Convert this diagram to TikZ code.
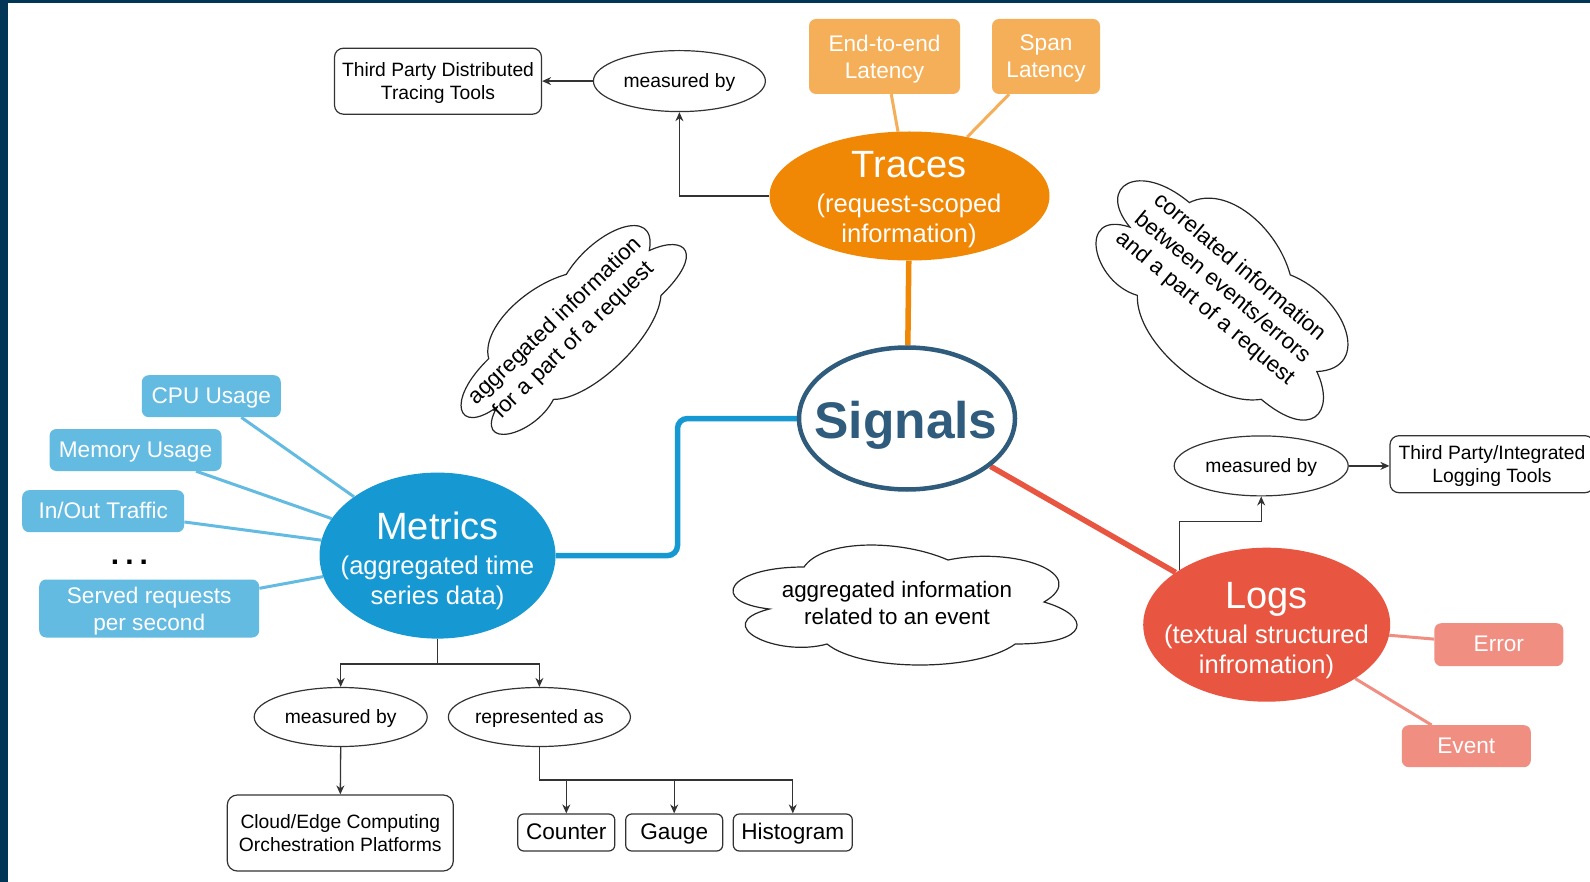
\documentclass[tikz,border=0pt]{standalone}
\usepackage{fontspec}
\setmainfont{Liberation Sans}
\usetikzlibrary{shapes.geometric,arrows.meta}

\pgfdeclarelayer{bglayer}
\pgfsetlayers{bglayer,main}

\definecolor{navy}{HTML}{023656}
\definecolor{trcdark}{HTML}{F08705}
\definecolor{trclight}{HTML}{F5AF58}
\definecolor{metdark}{HTML}{1699D3}
\definecolor{metlight}{HTML}{64BBE2}
\definecolor{logdark}{HTML}{E85642}
\definecolor{loglight}{HTML}{F08E81}
\definecolor{sigblue}{HTML}{2F5B7C}
\definecolor{ink}{HTML}{333333}

\newcommand\fsNote{\fontsize{19.3pt}{23.2pt}\selectfont}
\newcommand\fsLeaf{\fontsize{22.6pt}{27.1pt}\selectfont}
\newcommand\fsCloud{\fontsize{22.4pt}{26.9pt}\selectfont}
\newcommand\fsTitle{\fontsize{38pt}{45.6pt}\selectfont}
\newcommand\fsSub{\fontsize{25.6pt}{30pt}\selectfont}

% cloud outline centred at (#1,#2), size #3 x #4, turned by #5 degrees
\newcommand\puffcloud[5]{%
  \begin{scope}[shift={(#1,#2)}, rotate=#5, x={(#3pt,0pt)}, y={(0pt,-#4pt)}]
    \draw[cloudline] (-0.25,-0.25)
      .. controls (-0.45,-0.25) and (-0.5,0) .. (-0.34,0.05)
      .. controls (-0.5,0.16) and (-0.32,0.4) .. (-0.19,0.3)
      .. controls (-0.1,0.5) and (0.2,0.5) .. (0.3,0.3)
      .. controls (0.5,0.3) and (0.5,0.1) .. (0.375,0)
      .. controls (0.5,-0.2) and (0.3,-0.4) .. (0.125,-0.3)
      .. controls (0,-0.45) and (-0.2,-0.45) .. (-0.25,-0.25) -- cycle;
  \end{scope}}

\begin{document}
\begin{tikzpicture}[x=1pt, y=-1pt,
  hub/.style={ellipse, inner sep=0pt},
  hubtext/.style={align=center, text=white, font=\fsSub},
  leaf/.style={rectangle, rounded corners=7pt, inner sep=0pt, text=white, align=center, font=\fsLeaf},
  oneline/.style={text height=16.2pt, text depth=2pt},
  noteline/.style={text height=13.8pt, text depth=1.6pt},
  toolbox/.style={rectangle, draw=ink, line width=1.2pt, rounded corners=9pt, inner sep=0pt, align=center, font=\fsNote},
  verb/.style={ellipse, draw=ink, line width=1.2pt, fill=white, inner sep=0pt, font=\fsNote, noteline},
  tipline/.style={draw=ink, line width=1.3pt, -{Stealth[length=9pt,width=8pt]}},
  plainline/.style={draw=ink, line width=1.3pt},
  cloudline/.style={draw=black!85, line width=1.2pt, fill=white},
  cloudtext/.style={align=center, font=\fsCloud},
  trunk/.style={line width=5.5pt},
  twig/.style={line width=3pt}
]
\useasboundingbox (0,0) rectangle (1590,882);
\begin{pgfonlayer}{bglayer}
  \fill[white] (0,0) rectangle (1590,882);
\end{pgfonlayer}

% ---- main hubs
\node[hub, fill=trcdark, minimum width=280pt, minimum height=129pt] (traces) at (909.5,196) {};
\node[hub, draw=sigblue, line width=4.5pt, fill=white, minimum width=216pt, minimum height=142pt] (signals) at (907,418.5) {};
\node[hub, fill=metdark, minimum width=236pt, minimum height=166pt] (metrics) at (437.5,555.6) {};
\node[hub, fill=logdark, minimum width=247pt, minimum height=154pt] (logs) at (1266.7,624.7) {};

\node[hubtext] (tracestext) at (909,199.8) {{\fsTitle Traces}\\[5pt](request-scoped\\information)};
\node[hubtext] (metricstext) at (437.5,560.6) {{\fsTitle Metrics}\\[5pt](aggregated time\\series data)};
\node[hubtext] (logstext) at (1266.5,630.6) {{\fsTitle Logs}\\[5pt](textual structured\\infromation)};
\node[anchor=base, font=\fontsize{51.5pt}{60pt}\selectfont\bfseries, text=sigblue] (signalstext) at (906,438.3) {Signals};

% ---- coloured leaves
\node[leaf, fill=trclight, text depth=-1.3pt, minimum width=151pt, minimum height=75pt] (e2e) at (884.5,56.5) {End-to-end\\Latency};
\node[leaf, fill=trclight, text depth=-1.3pt, minimum width=108pt, minimum height=75pt] (span) at (1046,56.5) {Span\\Latency};

\node[leaf, oneline, fill=metlight, minimum width=139pt, minimum height=42pt] (cpu) at (211.3,396.2) {CPU Usage};
\node[leaf, oneline, fill=metlight, minimum width=172pt, minimum height=42pt] (mem) at (135.5,450) {Memory Usage};
\node[leaf, oneline, fill=metlight, minimum width=162pt, minimum height=42pt] (io) at (103.2,511.2) {In/Out Traffic};
\node[anchor=base, font=\fontsize{30pt}{36pt}\selectfont\bfseries] (dots) at (129.5,564) {.\kern6pt.\kern6pt.};
\node[leaf, fill=metlight, text depth=-3.3pt, minimum width=220pt, minimum height=58pt] (served) at (149.2,608.5) {Served requests\\per second};

\node[leaf, oneline, fill=loglight, minimum width=129pt, minimum height=43pt] (error) at (1498.8,644.7) {Error};
\node[leaf, oneline, fill=loglight, minimum width=129pt, minimum height=42pt] (event) at (1466.3,746.2) {Event};

% ---- tool boxes and relation ellipses
\node[toolbox, text depth=0pt, minimum width=207pt, minimum height=66pt] (tpd) at (438,81.2) {Third Party Distributed\\Tracing Tools};
\begin{scope}
  \clip (0,0) rectangle (1590,882);
  \node[toolbox, text depth=0.5pt, minimum width=204pt, minimum height=57pt] (llt) at (1492,464.2) {Third Party/Integrated\\Logging Tools};
\end{scope}
\node[toolbox, rounded corners=10pt, minimum width=226pt, minimum height=76pt] (cloudedge) at (340.3,833) {Cloud/Edge Computing\\Orchestration Platforms};
\node[toolbox, oneline, font=\fsLeaf, rounded corners=6pt, minimum width=97pt, minimum height=37pt] (counter) at (566.3,832.5) {Counter};
\node[toolbox, oneline, font=\fsLeaf, rounded corners=6pt, minimum width=97pt, minimum height=37pt] (gauge) at (674.2,832.5) {Gauge};
\node[toolbox, oneline, font=\fsLeaf, rounded corners=6pt, minimum width=119pt, minimum height=37pt] (histogram) at (792.8,832.5) {Histogram};

\node[verb, minimum width=172pt, minimum height=61pt] (tmb) at (679.4,81.1) {measured by};
\node[verb, minimum width=174pt, minimum height=60pt] (lmb) at (1261.2,465.9) {measured by};
\node[verb, minimum width=173pt, minimum height=59pt] (mmb) at (340.7,717) {measured by};
\node[verb, minimum width=172pt, minimum height=59pt] (mrep) at (539.4,717) {represented as};

% ---- thought clouds
\puffcloud{567}{330}{305}{135}{44}
\node[cloudtext, rotate=44] (cloudA) at (565,331) {aggregated information\\for a part of a request};
\puffcloud{1222}{292}{330}{190}{-40}
\node[cloudtext, rotate=-40] (cloudB) at (1222,288) {correlated information\\between events/errors\\and a part of a request};
\puffcloud{900}{602}{384}{140}{0}
\node[cloudtext] (cloudC) at (897,603) {aggregated information\\related to an event};

% ---- connectors
\coordinate (mbend) at (677.5,480);
\coordinate (mfork) at (437.5,664);
\coordinate (rfork) at (539.4,780);
\begin{pgfonlayer}{bglayer}
  \draw[trunk, trcdark] (traces) -- (signals);
  \draw[trunk, metdark, rounded corners=10pt] (signals.west) -| (mbend) |- (metrics.east);
  \draw[trunk, logdark] (signals) -- (logs);

  \draw[twig, trclight] (e2e) -- (traces);
  \draw[twig, trclight] (span) -- (traces);
  \draw[twig, metlight] (cpu) -- (metrics);
  \draw[twig, metlight] (mem) -- (metrics);
  \draw[twig, metlight] (io) -- (metrics);
  \draw[twig, metlight] (served) -- (metrics);
  \draw[twig, loglight] (error) -- (logs);
  \draw[twig, loglight] (event) -- (logs);
\end{pgfonlayer}

\draw[tipline] (traces.west) -| (tmb.south);
\draw[tipline] (tmb.west) -- (tmb.west -| tpd.east);

\draw[plainline] (metrics.south) -- (mfork);
\draw[tipline] (mfork) -| (mmb.north);
\draw[tipline] (mfork) -| (mrep.north);
\draw[tipline] (mmb.south) -- (cloudedge.north);
\draw[plainline] (mrep.south) -- (rfork);
\draw[tipline] (rfork) -| (counter.north);
\draw[tipline] (rfork) -| (gauge.north);
\draw[tipline] (rfork) -| (histogram.north);

\draw[tipline] (logs.148) -- ++(0,-48.5) -| (lmb.south);
\draw[tipline] (lmb.east) -- (lmb.east -| llt.west);

% ---- frame edges
\fill[navy] (0,0) rectangle (8.3,882);
\fill[navy] (0,0) rectangle (1590,3);
\end{tikzpicture}
\end{document}
